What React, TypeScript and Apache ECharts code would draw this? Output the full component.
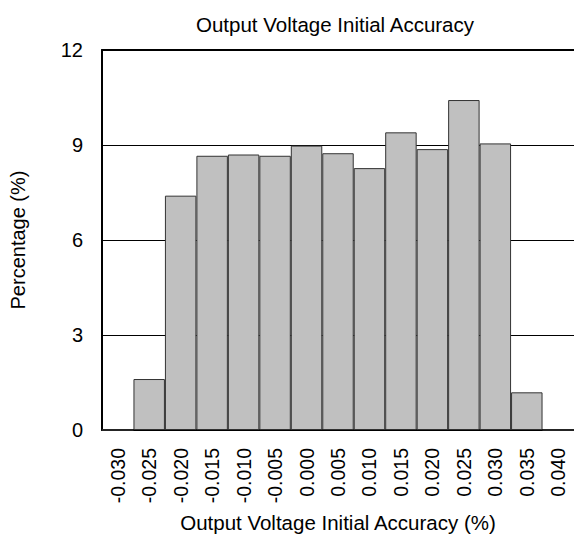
import React, { useEffect, useRef } from "react";
import * as echarts from "echarts";

const categories = [
  "-0.030", "-0.025", "-0.020", "-0.015", "-0.010", "-0.005", "0.000",
  "0.005", "0.010", "0.015", "0.020", "0.025", "0.030", "0.035", "0.040",
];
const percentages = [0, 1.61, 7.4, 8.66, 8.7, 8.66, 8.98, 8.74, 8.27, 9.4, 8.87, 10.42, 9.05, 1.19, 0];
const yTicks = { min: 0, max: 12, interval: 3 };

const FONT = "'Liberation Sans', Arial, sans-serif";

export default function App() {
  const ref = useRef<HTMLDivElement>(null);
  useEffect(() => {
    if (!ref.current) return;
    const chart = echarts.init(ref.current, undefined, { renderer: "svg" });
    chart.setOption({
      animation: false,
      backgroundColor: "#ffffff",
      title: {
        text: "Output Voltage Initial Accuracy",
        left: 330,
        top: 9,
        textAlign: "center",
        textStyle: { fontFamily: FONT, fontSize: 20.5, fontWeight: "normal", color: "#000" },
      },
      grid: { left: 101, top: 50, width: 476, height: 380, containLabel: false },
      xAxis: [
        {
          type: "category",
          data: categories,
          position: "bottom",
          axisLine: { show: true, lineStyle: { color: "#000", width: 2 } },
          axisTick: { show: false },
          axisLabel: {
            rotate: 90,
            interval: 0,
            margin: 18,
            fontFamily: FONT,
            fontSize: 19.5,
            color: "#000",
          },
          name: "Output Voltage Initial Accuracy (%)",
          nameLocation: "middle",
          nameGap: 82,
          nameTextStyle: { fontFamily: FONT, fontSize: 20.5, color: "#000", verticalAlign: "top" },
          splitLine: { show: false },
        },
        {
          type: "category",
          data: categories,
          position: "top",
          axisLine: { show: true, lineStyle: { color: "#000", width: 2 } },
          axisTick: { show: false },
          axisLabel: { show: false },
          splitLine: { show: false },
        },
      ],
      yAxis: {
        type: "value",
        min: yTicks.min,
        max: yTicks.max,
        interval: yTicks.interval,
        axisLine: { show: true, lineStyle: { color: "#000", width: 2 } },
        axisTick: { show: false },
        axisLabel: { margin: 19, fontFamily: FONT, fontSize: 20, color: "#000" },
        splitLine: { show: true, lineStyle: { color: "#000", width: 1 } },
        name: "Percentage (%)",
        nameLocation: "middle",
        nameGap: 74,
        nameTextStyle: { fontFamily: FONT, fontSize: 20, color: "#000" },
      },
      series: [
        {
          type: "bar",
          data: percentages,
          xAxisIndex: 0,
          barCategoryGap: "0%",
          itemStyle: { color: "#c0c0c0", borderColor: "#333", borderWidth: 1 },
        },
      ],
    });
    return () => chart.dispose();
  }, []);
  return (
    <div
      ref={ref}
      style={{ position: "fixed", left: 0, top: 0, width: 574, height: 538 }}
    />
  );
}
